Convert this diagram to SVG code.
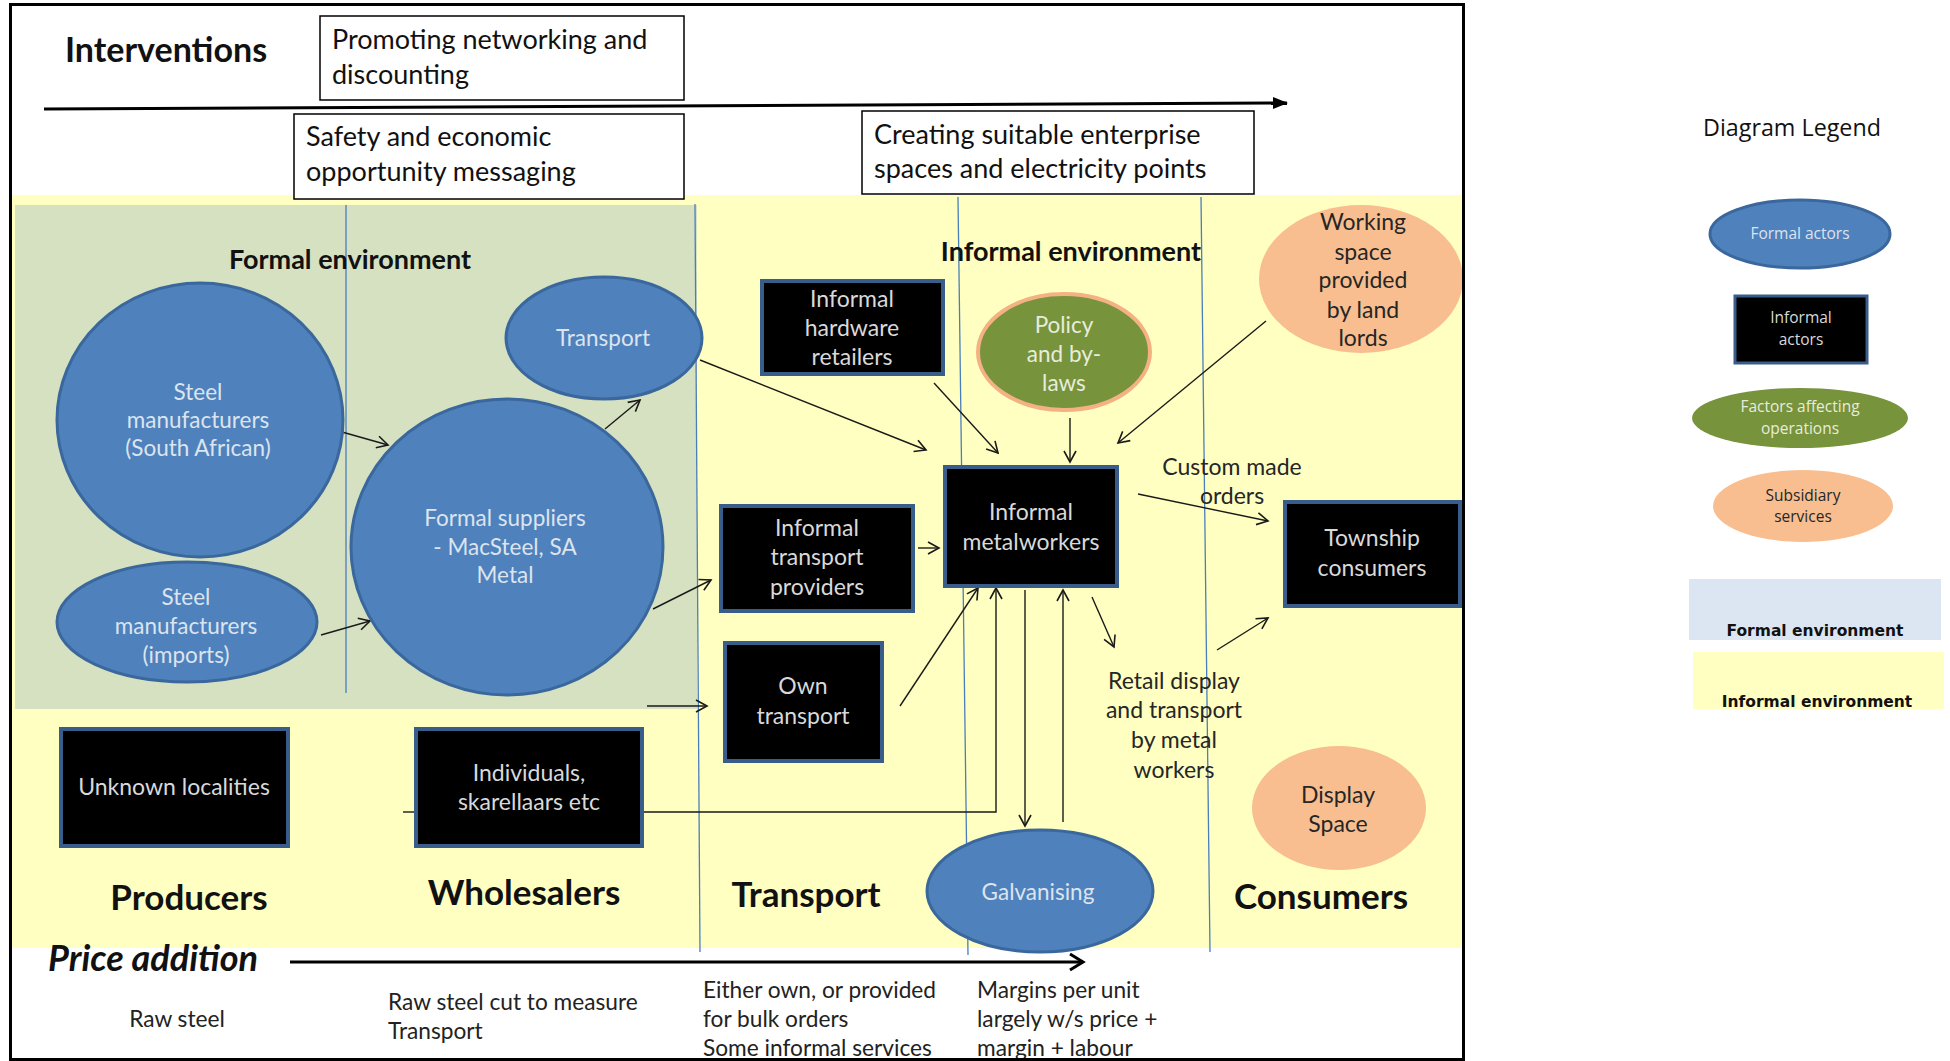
<svg xmlns="http://www.w3.org/2000/svg" width="1950" height="1061" viewBox="0 0 1950 1061">
<style>
text{font-family:Lato,"Liberation Sans",sans-serif}
.m{text-anchor:middle}
.blue{fill:#4F81BD;stroke:#3A679C;stroke-width:3}
.blk{fill:#000;stroke:#385D8A;stroke-width:4}
.wt{fill:#DCE4EE;font-size:22.5px}
.gt{fill:#D9D9D9;font-size:23px}
.dk{fill:#262626;font-size:23px}
.hd{font-weight:bold;font-size:35px;fill:#111}
.box{fill:#fff;stroke:#000;stroke-width:1.5}
.bt{font-size:27px;fill:#111}
.sep{stroke:#4A7EBB;stroke-width:1.3}
.c{stroke:#1a1a1a;stroke-width:1.4;fill:none;marker-end:url(#oa)}
.cn{stroke:#1a1a1a;stroke-width:1.4;fill:none}
.bot{font-size:22.7px;fill:#222}
.lg{font-family:"Open Sans",sans-serif;font-size:15.5px}
.lgb{font-family:"DejaVu Sans",sans-serif;font-weight:bold;font-size:15.5px;fill:#111;text-anchor:middle}
</style>
<defs>
<marker id="oa" markerWidth="14" markerHeight="14" refX="12" refY="7" orient="auto" markerUnits="userSpaceOnUse"><path d="M1,1 L12,7 L1,13" fill="none" stroke="#1a1a1a" stroke-width="1.6"/></marker>
<marker id="fa" markerWidth="16" markerHeight="14" refX="14" refY="7" orient="auto" markerUnits="userSpaceOnUse"><path d="M0,1 L15,7 L0,13 Z" fill="#000"/></marker>
<marker id="ch" markerWidth="18" markerHeight="20" refX="15" refY="10" orient="auto" markerUnits="userSpaceOnUse"><path d="M2,2 L15,10 L2,18" fill="none" stroke="#000" stroke-width="3"/></marker>
</defs>

<rect x="0" y="0" width="1950" height="1061" fill="#fff"/>
<g id="backgrounds">
<rect x="12" y="195" width="1450" height="753" fill="#FFFFC1"/>
<rect x="15" y="205" width="682" height="504" fill="#D6E1C2"/>
<line class="sep" x1="346" y1="205" x2="346" y2="693"/>
<line class="sep" x1="695" y1="204" x2="700" y2="952"/>
<line class="sep" x1="958" y1="197" x2="968" y2="955"/>
<line class="sep" x1="1201" y1="197" x2="1210" y2="952"/>
</g>

<g id="interventions">
<text x="65" y="62" font-weight="bold" font-size="34" fill="#111">Interventions</text>
<g id="box-networking"><rect class="box" x="320" y="16" width="364" height="84"/>
<text class="bt" x="332" y="49">Promoting networking and</text><text class="bt" x="332" y="84">discounting</text></g>
<g id="box-safety"><rect class="box" x="294" y="114" width="390" height="85"/>
<text class="bt" x="306" y="146">Safety and economic</text><text class="bt" x="306" y="181">opportunity messaging</text></g>
<g id="box-spaces"><rect class="box" x="862" y="111" width="392" height="83"/>
<text class="bt" x="874" y="144" font-size="26">Creating suitable enterprise</text><text class="bt" x="874" y="178">spaces and electricity points</text></g>
</g>

<g id="env-labels">
<text class="m" x="350" y="269" font-weight="bold" font-size="27" fill="#111">Formal environment</text>
<text class="m" x="1071" y="261" font-weight="bold" font-size="27" fill="#111">Informal environment</text>
<text class="hd m" x="189" y="910">Producers</text>
<text class="hd m" x="524" y="905">Wholesalers</text>
<text class="hd m" x="806" y="907">Transport</text>
<text class="hd m" x="1321" y="909">Consumers</text>
</g>

<g id="connectors">
<line x1="44" y1="109" x2="1287" y2="103" style="stroke:#000;stroke-width:3;marker-end:url(#fa)"/>
<line x1="290" y1="962" x2="1083" y2="962" style="stroke:#000;stroke-width:3;marker-end:url(#ch)"/>
<line class="c" x1="342" y1="432" x2="388" y2="445"/>
<line class="c" x1="321" y1="635" x2="370" y2="621"/>
<line class="c" x1="605" y1="429" x2="640" y2="400"/>
<line class="c" x1="653" y1="609" x2="711" y2="580"/>
<line class="c" x1="647" y1="706" x2="707" y2="706"/>
<line class="c" x1="700" y1="360" x2="926" y2="450"/>
<line class="c" x1="934" y1="383" x2="998" y2="453"/>
<line class="c" x1="1070" y1="418" x2="1070" y2="462"/>
<line class="c" x1="1266" y1="321" x2="1118" y2="443"/>
<line class="c" x1="918" y1="548" x2="939" y2="548"/>
<line class="c" x1="900" y1="706" x2="978" y2="588"/>
<path class="c" d="M642,812 H996 V588"/>
<line class="cn" x1="403" y1="812" x2="416" y2="812"/>
<line class="c" x1="1025" y1="590" x2="1025" y2="826"/>
<line class="c" x1="1063" y1="822" x2="1063" y2="590"/>
<line class="c" x1="1138" y1="494" x2="1268" y2="521"/>
<line class="c" x1="1092" y1="597" x2="1114" y2="647"/>
<line class="c" x1="1217" y1="650" x2="1268" y2="618"/>
</g>

<g id="sa-manufacturers"><ellipse class="blue" cx="200" cy="420" rx="143" ry="137"/>
<text class="wt m" x="198" y="400">Steel</text><text class="wt m" x="198" y="428">manufacturers</text><text class="wt m" x="198" y="456">(South African)</text></g>
<g id="import-manufacturers"><ellipse class="blue" cx="187" cy="622" rx="130" ry="60"/>
<text class="wt m" x="186" y="605">Steel</text><text class="wt m" x="186" y="634">manufacturers</text><text class="wt m" x="186" y="663">(imports)</text></g>
<g id="formal-suppliers"><ellipse class="blue" cx="507" cy="547" rx="156" ry="148"/>
<text class="wt m" x="505" y="526">Formal suppliers</text><text class="wt m" x="505" y="555">- MacSteel, SA</text><text class="wt m" x="505" y="583">Metal</text></g>
<g id="formal-transport"><ellipse class="blue" cx="604" cy="338" rx="98" ry="61"/>
<text class="wt m" x="603" y="346">Transport</text></g>
<g id="hardware-retailers"><rect class="blk" x="762" y="281" width="181" height="93"/>
<text class="gt m" x="852" y="307">Informal</text><text class="gt m" x="852" y="336">hardware</text><text class="gt m" x="852" y="365">retailers</text></g>
<g id="policy"><ellipse cx="1064" cy="352" rx="86" ry="58" fill="#77933C" stroke="#F4B183" stroke-width="4"/>
<text class="m" x="1064" y="333" font-size="22.5" fill="#E8ECDC">Policy</text><text class="m" x="1064" y="362" font-size="22.5" fill="#E8ECDC">and by-</text><text class="m" x="1064" y="391" font-size="22.5" fill="#E8ECDC">laws</text></g>
<g id="working-space"><ellipse cx="1361" cy="279" rx="102" ry="74" fill="#F9BE8F"/>
<text class="dk m" x="1363" y="230">Working</text><text class="dk m" x="1363" y="260">space</text><text class="dk m" x="1363" y="288">provided</text><text class="dk m" x="1363" y="318">by land</text><text class="dk m" x="1363" y="346">lords</text></g>
<g id="metalworkers"><rect class="blk" x="945" y="467" width="172" height="119"/>
<text class="gt m" x="1031" y="520">Informal</text><text class="gt m" x="1031" y="550">metalworkers</text></g>
<g id="township"><rect class="blk" x="1285" y="502" width="175" height="104"/>
<text class="gt m" x="1372" y="546">Township</text><text class="gt m" x="1372" y="576">consumers</text></g>
<g id="transport-providers"><rect class="blk" x="721" y="506" width="192" height="105"/>
<text class="gt m" x="817" y="536">Informal</text><text class="gt m" x="817" y="565">transport</text><text class="gt m" x="817" y="595">providers</text></g>
<g id="own-transport"><rect class="blk" x="725" y="643" width="157" height="118"/>
<text class="gt m" x="803" y="694">Own</text><text class="gt m" x="803" y="724">transport</text></g>
<g id="unknown-localities"><rect class="blk" x="61" y="729" width="227" height="117"/>
<text class="gt m" x="174" y="795">Unknown  localities</text></g>
<g id="individuals"><rect class="blk" x="416" y="729" width="226" height="117"/>
<text class="gt m" x="529" y="781">Individuals,</text><text class="gt m" x="529" y="810">skarellaars etc</text></g>
<g id="galvanising"><ellipse class="blue" cx="1040" cy="891" rx="113" ry="61"/>
<text class="wt m" x="1038" y="900" font-size="23">Galvanising</text></g>
<g id="display-space"><ellipse cx="1339" cy="808" rx="87" ry="62" fill="#F9BE8F"/>
<text class="dk m" x="1338" y="803">Display</text><text class="dk m" x="1338" y="832">Space</text></g>

<g id="labels">
<text class="dk m" x="1232" y="475">Custom made</text><text class="dk m" x="1232" y="504">orders</text>
<text class="dk m" x="1174" y="689">Retail display</text><text class="dk m" x="1174" y="718">and transport</text><text class="dk m" x="1174" y="748">by metal</text><text class="dk m" x="1174" y="778">workers</text>
</g>

<g id="price-addition">
<text x="48" y="971" font-weight="bold" font-style="italic" font-size="36" fill="#111">Price addition</text>
<text class="bot m" x="177" y="1027">Raw steel</text>
<text class="bot" x="388" y="1010">Raw steel cut to measure</text><text class="bot" x="388" y="1039">Transport</text>
<text class="bot" x="703" y="998">Either own, or provided</text><text class="bot" x="703" y="1027">for bulk orders</text><text class="bot" x="703" y="1056">Some informal services</text>
<text class="bot" x="977" y="998">Margins per unit</text><text class="bot" x="977" y="1027">largely w/s price +</text><text class="bot" x="977" y="1056">margin + labour</text>
</g>

<rect x="10.5" y="4.5" width="1453" height="1055" fill="none" stroke="#000" stroke-width="3"/>

<g id="legend">
<text class="m" x="1792" y="136" font-size="23.3" fill="#111" style="font-family:'Open Sans',sans-serif">Diagram Legend</text>
<g id="lg-formal"><ellipse cx="1800" cy="234" rx="90" ry="34" fill="#4F81BD" stroke="#3A679C" stroke-width="3"/>
<text class="lg m" x="1800" y="239" fill="#DCE4EE">Formal  actors</text></g>
<g id="lg-informal"><rect x="1735" y="296" width="132" height="67" fill="#000" stroke="#385D8A" stroke-width="3"/>
<text class="lg m" x="1801" y="323" fill="#D9D9D9">Informal</text><text class="lg m" x="1801" y="345" fill="#D9D9D9">actors</text></g>
<g id="lg-factors"><ellipse cx="1800" cy="418" rx="108" ry="30" fill="#77933C"/>
<text class="lg m" x="1800" y="412" fill="#E8ECDC">Factors affecting</text><text class="lg m" x="1800" y="434" fill="#E8ECDC">operations</text></g>
<g id="lg-subsidiary"><ellipse cx="1803" cy="506" rx="90" ry="36" fill="#F9BE8F"/>
<text class="lg m" x="1803" y="501" fill="#262626">Subsidiary</text><text class="lg m" x="1803" y="522" fill="#262626">services</text></g>
<g id="lg-formal-env"><rect x="1689" y="579" width="252" height="61" fill="#DCE6F2"/>
<text class="lgb" x="1815" y="636">Formal environment</text></g>
<g id="lg-informal-env"><rect x="1693" y="652" width="251" height="57" fill="#FFFFC1"/>
<text class="lgb" x="1817" y="707">Informal environment</text></g>
</g>
</svg>
